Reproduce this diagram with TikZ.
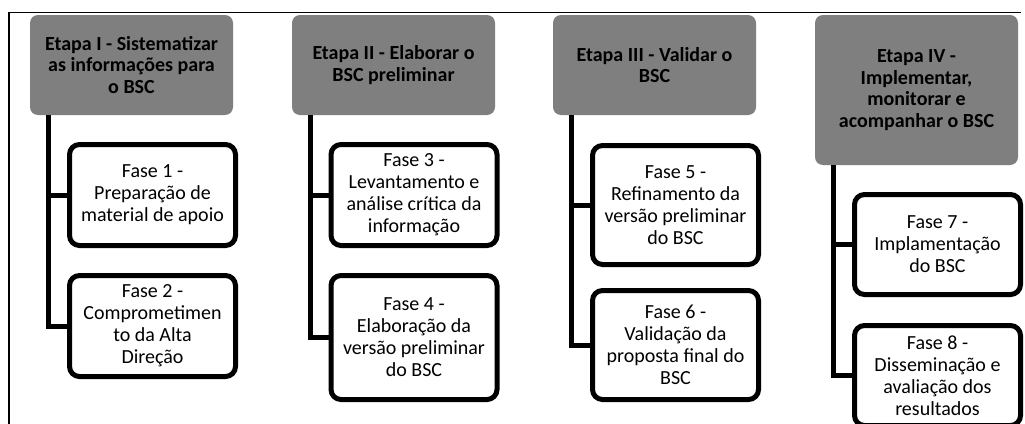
\documentclass[tikz,border=0pt]{standalone}
\usepackage{fontspec}
\setmainfont{Carlito}
\usepackage{xcolor}
\usepackage{tikz}

\definecolor{cinza}{RGB}{127,127,127}

\begin{document}
\begin{tikzpicture}[x=1pt,y=1pt]
\tikzstyle{every node}+=[inner sep=0pt]
\tikzstyle{etapa}=[fill=cinza, rounded corners=8pt, minimum width=203pt, align=center, font=\fontsize{20}{21.5}\selectfont\bfseries]
\tikzstyle{fase}=[draw=black, line width=5pt, fill=white, rounded corners=10pt, minimum width=166pt, align=center, font=\fontsize{20}{22}\selectfont]
\tikzstyle{conector}=[black, line width=5pt]
\useasboundingbox (0,0) rectangle (1025,-423);
\fill [white] (0,0) rectangle (1025,-423);
\draw [black, line width=1.5pt] (9,-430) -- (9,-12.5) -- (1021,-12.5);
% etapas
\node [etapa, minimum height=100pt] (e1) at (131.5,-65) {Etapa I - Sistematizar\\as informações para\\o BSC};
\node [etapa, minimum height=100pt] (e2) at (393.5,-65) {Etapa II - Elaborar o\\BSC preliminar};
\node [etapa, minimum height=100pt] (e3) at (654.5,-65) {Etapa III - Validar o\\BSC};
\node [etapa, minimum height=150pt] (e4) at (916.5,-90) {Etapa IV -\\Implementar,\\monitorar e\\acompanhar o BSC};
% fases
\node [fase, minimum height=101pt] (f1) at (152.5,-195) {Fase 1 -\\Preparação de\\material de apoio};
\node [fase, minimum height=101pt] (f2) at (152.5,-326) {Fase 2 -\\Comprometimen\\to da Alta\\Direção};
\node [fase, minimum height=101pt] (f3) at (414,-195) {Fase 3 -\\Levantamento e\\análise crítica da\\informação};
\node [fase, minimum height=124pt] (f4) at (414,-337.5) {Fase 4 -\\Elaboração da\\versão preliminar\\do BSC};
\node [fase, minimum height=119pt] (f5) at (675.5,-205) {Fase 5 -\\Refinamento da\\versão preliminar\\do BSC};
\node [fase, minimum height=109pt] (f6) at (675.5,-345) {Fase 6 -\\Validação da\\proposta final do\\BSC};
\node [fase, minimum height=100pt] (f7) at (937.5,-244.5) {Fase 7 -\\Implamentação\\do BSC};
\node [fase, minimum height=100pt] (f8) at (937.5,-375.5) {Fase 8 -\\Disseminação e\\avaliação dos\\resultados};
% ligacoes
\draw [conector] ([xshift=18.5pt]e1.south west) |- (f1.west);
\draw [conector] ([xshift=18.5pt]e1.south west) |- (f2.west);
\draw [conector] ([xshift=18.5pt]e2.south west) |- (f3.west);
\draw [conector] ([xshift=18.5pt]e2.south west) |- (f4.west);
\draw [conector] ([xshift=18.5pt]e3.south west) |- (f5.west);
\draw [conector] ([xshift=18.5pt]e3.south west) |- (f6.west);
\draw [conector] ([xshift=18.5pt]e4.south west) |- (f7.west);
\draw [conector] ([xshift=18.5pt]e4.south west) |- (f8.west);
\end{tikzpicture}
\end{document}
